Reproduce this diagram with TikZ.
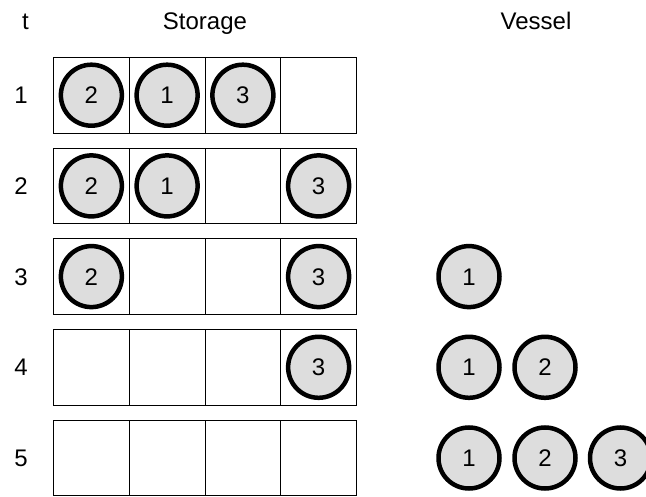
\documentclass[tikz,border=0pt]{standalone}
\usepackage{fontspec}
\setmainfont{Liberation Sans}
\definecolor{ballgray}{HTML}{DDDDDD}
\begin{document}
\begin{tikzpicture}[x=1pt,y=-1pt,
  cell/.style={draw, line width=1pt, minimum width=75.75pt, minimum height=75.7pt, inner sep=0pt},
  ball/.style={circle, draw, line width=4.5pt, fill=ballgray, minimum size=61pt, inner sep=0pt, text height=17.2pt, text depth=0pt, font=\fontsize{24}{28}\selectfont},
  lbl/.style={font=\fontsize{24}{28}\selectfont, inner sep=0pt}]
\useasboundingbox (0,0) rectangle (646,497);
% headers
\node[lbl, anchor=base] (ht) at (25.5,30) {t};
\node[lbl, anchor=base] (hs) at (205,30) {Storage};
\node[lbl, anchor=base] (hv) at (536,30) {Vessel};
% rows
\foreach \r in {1,...,5}{
  \pgfmathsetmacro{\cy}{95.2+90.7*(\r-1)}
  \node[lbl, text height=17.2pt, text depth=0pt] (t\r) at (21,\cy) {\r};
  \foreach \c in {1,...,4}{
    \pgfmathsetmacro{\cx}{53.5+75.75*(\c-0.5)}
    \node[cell] (c\r\c) at (\cx,\cy) {};
  }
}
% storage balls
\node[ball] (s11) at (c11) {2};
\node[ball] (s12) at (c12) {1};
\node[ball] (s13) at (c13) {3};
\node[ball] (s21) at (c21) {2};
\node[ball] (s22) at (c22) {1};
\node[ball] (s24) at (c24) {3};
\node[ball] (s31) at (c31) {2};
\node[ball] (s34) at (c34) {3};
\node[ball] (s44) at (c44) {3};
% vessel balls
\node[ball] (v31) at (469,276.6) {1};
\node[ball] (v41) at (469,367.3) {1};
\node[ball] (v42) at (545,367.3) {2};
\node[ball] (v51) at (469,458.0) {1};
\node[ball] (v52) at (545,458.0) {2};
\node[ball] (v53) at (620.5,458.0) {3};
\end{tikzpicture}
\end{document}
